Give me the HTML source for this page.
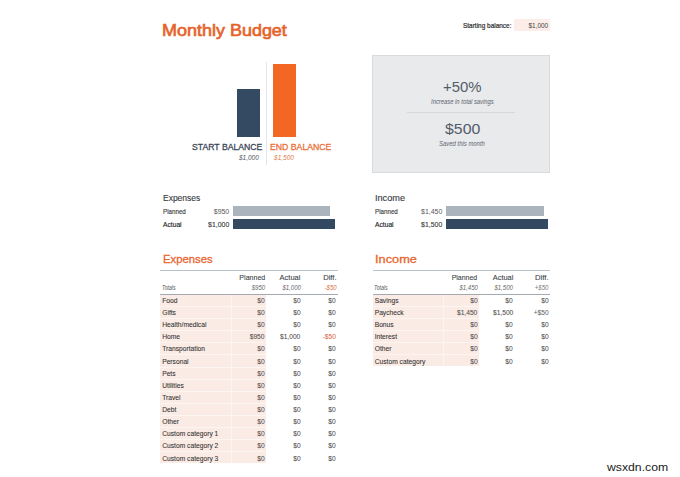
<!DOCTYPE html>
<html><head><meta charset="utf-8">
<style>
*{margin:0;padding:0;box-sizing:border-box}
html,body{width:680px;height:477px;overflow:hidden;background:#fff}
body{position:relative;font-family:"Liberation Sans",sans-serif}
.t{position:absolute;white-space:nowrap;line-height:1}
.r{position:absolute}
</style></head><body>
<div class="t" style="left:162.40px;top:22.00px;font-size:16.42px;font-weight:normal;font-style:normal;color:#e6632c;transform:scaleX(1.0952);transform-origin:left 0;-webkit-text-stroke:0.65px #e6632c;">Monthly Budget</div>
<div class="t" style="left:462.70px;top:22.00px;font-size:7.27px;font-weight:normal;font-style:normal;color:#2b2b2b;transform:scaleX(0.8892);transform-origin:left 0;-webkit-text-stroke:0.2px #2b2b2b;">Starting balance:</div>
<div class="r" style="left:514px;top:19px;width:36px;height:12px;background:#fcede8;"></div>
<div class="t" style="left:527.81px;top:23.00px;font-size:6.60px;font-weight:normal;font-style:normal;color:#444;transform:scaleX(0.9759);transform-origin:right 0;">$1,000</div>
<div class="r" style="left:237px;top:89px;width:23px;height:48px;background:#344a62;"></div>
<div class="r" style="left:272.5px;top:64px;width:23px;height:73px;background:#f46624;"></div>
<div class="r" style="left:266px;top:62px;width:1px;height:103px;background:#e3e6ea;"></div>
<div class="t" style="left:192.10px;top:142.00px;font-size:9.59px;font-weight:normal;font-style:normal;color:#3a4656;transform:scaleX(0.9057);transform-origin:left 0;-webkit-text-stroke:0.3px #3a4656;">START BALANCE</div>
<div class="t" style="left:270.40px;top:142.00px;font-size:9.59px;font-weight:normal;font-style:normal;color:#ec6e38;transform:scaleX(0.9083);transform-origin:left 0;-webkit-text-stroke:0.3px #ec6e38;">END BALANCE</div>
<div class="t" style="left:238.31px;top:155.00px;font-size:6.83px;font-weight:normal;font-style:italic;color:#50555f;transform:scaleX(0.9572);transform-origin:right 0;">$1,000</div>
<div class="t" style="left:274.40px;top:155.00px;font-size:6.83px;font-weight:normal;font-style:italic;color:#dd7a52;transform:scaleX(0.9572);transform-origin:left 0;">$1,500</div>
<div class="r" style="left:372px;top:55px;width:178px;height:118px;background:#e9eaec;border:1px solid #d9dbde;box-sizing:border-box;"></div>
<div class="t" style="left:442.60px;top:79.00px;font-size:15.12px;font-weight:normal;font-style:normal;color:#535c69;transform:scaleX(0.9851);transform-origin:left 0;">+50%</div>
<div class="t" style="left:430.50px;top:99.00px;font-size:7.12px;font-weight:normal;font-style:italic;color:#5d6470;transform:scaleX(0.8232);transform-origin:left 0;">Increase in total savings</div>
<div class="r" style="left:407px;top:112px;width:108px;height:1px;background:#d4d7db;"></div>
<div class="t" style="left:444.70px;top:121.00px;font-size:15.26px;font-weight:normal;font-style:normal;color:#535c69;transform:scaleX(1.0397);transform-origin:left 0;">$500</div>
<div class="t" style="left:438.80px;top:141.00px;font-size:6.83px;font-weight:normal;font-style:italic;color:#5d6470;transform:scaleX(0.8696);transform-origin:left 0;">Saved this month</div>
<div class="t" style="left:162.50px;top:194.00px;font-size:8.87px;font-weight:normal;font-style:normal;color:#333840;transform:scaleX(0.9579);transform-origin:left 0;-webkit-text-stroke:0.12px #333840;">Expenses</div>
<div class="t" style="left:162.50px;top:208.00px;font-size:7.27px;font-weight:normal;font-style:normal;color:#333;transform:scaleX(0.8548);transform-origin:left 0;-webkit-text-stroke:0.12px #333;">Planned</div>
<div class="t" style="left:162.50px;top:221.00px;font-size:7.27px;font-weight:normal;font-style:normal;color:#222;transform:scaleX(0.9208);transform-origin:left 0;-webkit-text-stroke:0.15px #222;">Actual</div>
<div class="t" style="left:213.33px;top:208.00px;font-size:7.27px;font-weight:normal;font-style:normal;color:#555;transform:scaleX(0.9500);transform-origin:right 0;">$950</div>
<div class="t" style="left:207.27px;top:221.00px;font-size:7.27px;font-weight:normal;font-style:normal;color:#333;transform:scaleX(0.9500);transform-origin:right 0;-webkit-text-stroke:0.1px #333;">$1,000</div>
<div class="r" style="left:233px;top:206px;width:97px;height:10px;background:#abb4bd;"></div>
<div class="r" style="left:233px;top:219px;width:102px;height:10px;background:#334962;"></div>
<div class="t" style="left:374.80px;top:194.00px;font-size:8.87px;font-weight:normal;font-style:normal;color:#333840;transform:scaleX(1.0318);transform-origin:left 0;-webkit-text-stroke:0.12px #333840;">Income</div>
<div class="t" style="left:374.80px;top:208.00px;font-size:7.27px;font-weight:normal;font-style:normal;color:#333;transform:scaleX(0.8548);transform-origin:left 0;-webkit-text-stroke:0.12px #333;">Planned</div>
<div class="t" style="left:374.80px;top:221.00px;font-size:7.27px;font-weight:normal;font-style:normal;color:#222;transform:scaleX(0.9208);transform-origin:left 0;-webkit-text-stroke:0.15px #222;">Actual</div>
<div class="t" style="left:419.97px;top:208.00px;font-size:7.27px;font-weight:normal;font-style:normal;color:#555;transform:scaleX(0.9500);transform-origin:right 0;">$1,450</div>
<div class="t" style="left:419.97px;top:221.00px;font-size:7.27px;font-weight:normal;font-style:normal;color:#333;transform:scaleX(0.9500);transform-origin:right 0;-webkit-text-stroke:0.1px #333;">$1,500</div>
<div class="r" style="left:445.7px;top:206px;width:98.5px;height:10px;background:#abb4bd;"></div>
<div class="r" style="left:445.7px;top:219px;width:102.3px;height:10px;background:#334962;"></div>
<div class="t" style="left:162.50px;top:253.00px;font-size:11.77px;font-weight:normal;font-style:normal;color:#e8652e;transform:scaleX(0.9593);transform-origin:left 0;-webkit-text-stroke:0.3px #e8652e;">Expenses</div>
<div class="r" style="left:160px;top:270px;width:178px;height:1px;background:#b9c3ce;"></div>
<div class="t" style="left:236.63px;top:274.00px;font-size:7.70px;font-weight:normal;font-style:normal;color:#3a3f47;transform:scaleX(0.9161);transform-origin:right 0;-webkit-text-stroke:0.1px #3a3f47;">Planned</div>
<div class="t" style="left:278.99px;top:274.00px;font-size:7.70px;font-weight:normal;font-style:normal;color:#3a3f47;transform:scaleX(0.9715);transform-origin:right 0;-webkit-text-stroke:0.1px #3a3f47;">Actual</div>
<div class="t" style="left:322.64px;top:274.00px;font-size:7.70px;font-weight:normal;font-style:normal;color:#3a3f47;transform:scaleX(0.9885);transform-origin:right 0;-webkit-text-stroke:0.1px #3a3f47;">Diff.</div>
<div class="t" style="left:161.90px;top:285.00px;font-size:6.69px;font-weight:normal;font-style:italic;color:#555;transform:scaleX(0.7673);transform-origin:left 0;">Totals</div>
<div class="t" style="left:249.70px;top:285.00px;font-size:6.83px;font-weight:normal;font-style:italic;color:#666;transform:scaleX(0.8850);transform-origin:right 0;">$950</div>
<div class="t" style="left:279.51px;top:285.00px;font-size:6.83px;font-weight:normal;font-style:italic;color:#666;transform:scaleX(0.8850);transform-origin:right 0;">$1,000</div>
<div class="t" style="left:322.53px;top:285.00px;font-size:6.83px;font-weight:normal;font-style:italic;color:#dc6a48;transform:scaleX(0.8850);transform-origin:right 0;">-$50</div>
<div class="r" style="left:160px;top:294px;width:178px;height:1px;background:#a3aab2;"></div>
<div class="r" style="left:160px;top:295px;width:106px;height:168px;background:#fbebe5;"></div>
<div class="r" style="left:230.5px;top:295px;width:1px;height:168px;background:#fdf5f2;"></div>
<div class="r" style="left:160px;top:306px;width:106px;height:1px;background:#fdf5f2;"></div>
<div class="t" style="left:162.20px;top:298.00px;font-size:6.69px;font-weight:normal;font-style:normal;color:#333;-webkit-text-stroke:0.08px #333;">Food</div>
<div class="t" style="left:257.14px;top:297.00px;font-size:6.98px;font-weight:normal;font-style:normal;color:#4a4a4a;transform:scaleX(0.9550);transform-origin:right 0;-webkit-text-stroke:0.05px #4a4a4a;">$0</div>
<div class="t" style="left:292.64px;top:297.00px;font-size:6.98px;font-weight:normal;font-style:normal;color:#4a4a4a;transform:scaleX(0.9550);transform-origin:right 0;-webkit-text-stroke:0.05px #4a4a4a;">$0</div>
<div class="t" style="left:328.44px;top:297.00px;font-size:6.98px;font-weight:normal;font-style:normal;color:#4a4a4a;transform:scaleX(0.9550);transform-origin:right 0;-webkit-text-stroke:0.05px #4a4a4a;">$0</div>
<div class="r" style="left:160px;top:318px;width:106px;height:1px;background:#fdf5f2;"></div>
<div class="t" style="left:162.20px;top:310.00px;font-size:6.69px;font-weight:normal;font-style:normal;color:#333;-webkit-text-stroke:0.08px #333;">Gifts</div>
<div class="t" style="left:257.14px;top:309.00px;font-size:6.98px;font-weight:normal;font-style:normal;color:#4a4a4a;transform:scaleX(0.9550);transform-origin:right 0;-webkit-text-stroke:0.05px #4a4a4a;">$0</div>
<div class="t" style="left:292.64px;top:309.00px;font-size:6.98px;font-weight:normal;font-style:normal;color:#4a4a4a;transform:scaleX(0.9550);transform-origin:right 0;-webkit-text-stroke:0.05px #4a4a4a;">$0</div>
<div class="t" style="left:328.44px;top:309.00px;font-size:6.98px;font-weight:normal;font-style:normal;color:#4a4a4a;transform:scaleX(0.9550);transform-origin:right 0;-webkit-text-stroke:0.05px #4a4a4a;">$0</div>
<div class="r" style="left:160px;top:330px;width:106px;height:1px;background:#fdf5f2;"></div>
<div class="t" style="left:162.20px;top:322.00px;font-size:6.69px;font-weight:normal;font-style:normal;color:#333;-webkit-text-stroke:0.08px #333;">Health/medical</div>
<div class="t" style="left:257.14px;top:321.00px;font-size:6.98px;font-weight:normal;font-style:normal;color:#4a4a4a;transform:scaleX(0.9550);transform-origin:right 0;-webkit-text-stroke:0.05px #4a4a4a;">$0</div>
<div class="t" style="left:292.64px;top:321.00px;font-size:6.98px;font-weight:normal;font-style:normal;color:#4a4a4a;transform:scaleX(0.9550);transform-origin:right 0;-webkit-text-stroke:0.05px #4a4a4a;">$0</div>
<div class="t" style="left:328.44px;top:321.00px;font-size:6.98px;font-weight:normal;font-style:normal;color:#4a4a4a;transform:scaleX(0.9550);transform-origin:right 0;-webkit-text-stroke:0.05px #4a4a4a;">$0</div>
<div class="r" style="left:160px;top:342px;width:106px;height:1px;background:#fdf5f2;"></div>
<div class="t" style="left:162.20px;top:334.00px;font-size:6.69px;font-weight:normal;font-style:normal;color:#333;-webkit-text-stroke:0.08px #333;">Home</div>
<div class="t" style="left:249.38px;top:333.00px;font-size:6.98px;font-weight:normal;font-style:normal;color:#4a4a4a;transform:scaleX(0.9550);transform-origin:right 0;-webkit-text-stroke:0.05px #4a4a4a;">$950</div>
<div class="t" style="left:279.06px;top:333.00px;font-size:6.98px;font-weight:normal;font-style:normal;color:#4a4a4a;transform:scaleX(0.9550);transform-origin:right 0;-webkit-text-stroke:0.05px #4a4a4a;">$1,000</div>
<div class="t" style="left:322.24px;top:333.00px;font-size:6.98px;font-weight:normal;font-style:normal;color:#dc6a48;transform:scaleX(0.9550);transform-origin:right 0;-webkit-text-stroke:0.05px #dc6a48;">-$50</div>
<div class="r" style="left:160px;top:354px;width:106px;height:1px;background:#fdf5f2;"></div>
<div class="t" style="left:162.20px;top:346.00px;font-size:6.69px;font-weight:normal;font-style:normal;color:#333;-webkit-text-stroke:0.08px #333;">Transportation</div>
<div class="t" style="left:257.14px;top:345.00px;font-size:6.98px;font-weight:normal;font-style:normal;color:#4a4a4a;transform:scaleX(0.9550);transform-origin:right 0;-webkit-text-stroke:0.05px #4a4a4a;">$0</div>
<div class="t" style="left:292.64px;top:345.00px;font-size:6.98px;font-weight:normal;font-style:normal;color:#4a4a4a;transform:scaleX(0.9550);transform-origin:right 0;-webkit-text-stroke:0.05px #4a4a4a;">$0</div>
<div class="t" style="left:328.44px;top:345.00px;font-size:6.98px;font-weight:normal;font-style:normal;color:#4a4a4a;transform:scaleX(0.9550);transform-origin:right 0;-webkit-text-stroke:0.05px #4a4a4a;">$0</div>
<div class="r" style="left:160px;top:367px;width:106px;height:1px;background:#fdf5f2;"></div>
<div class="t" style="left:162.20px;top:359.00px;font-size:6.69px;font-weight:normal;font-style:normal;color:#333;-webkit-text-stroke:0.08px #333;">Personal</div>
<div class="t" style="left:257.14px;top:358.00px;font-size:6.98px;font-weight:normal;font-style:normal;color:#4a4a4a;transform:scaleX(0.9550);transform-origin:right 0;-webkit-text-stroke:0.05px #4a4a4a;">$0</div>
<div class="t" style="left:292.64px;top:358.00px;font-size:6.98px;font-weight:normal;font-style:normal;color:#4a4a4a;transform:scaleX(0.9550);transform-origin:right 0;-webkit-text-stroke:0.05px #4a4a4a;">$0</div>
<div class="t" style="left:328.44px;top:358.00px;font-size:6.98px;font-weight:normal;font-style:normal;color:#4a4a4a;transform:scaleX(0.9550);transform-origin:right 0;-webkit-text-stroke:0.05px #4a4a4a;">$0</div>
<div class="r" style="left:160px;top:379px;width:106px;height:1px;background:#fdf5f2;"></div>
<div class="t" style="left:162.20px;top:371.00px;font-size:6.69px;font-weight:normal;font-style:normal;color:#333;-webkit-text-stroke:0.08px #333;">Pets</div>
<div class="t" style="left:257.14px;top:370.00px;font-size:6.98px;font-weight:normal;font-style:normal;color:#4a4a4a;transform:scaleX(0.9550);transform-origin:right 0;-webkit-text-stroke:0.05px #4a4a4a;">$0</div>
<div class="t" style="left:292.64px;top:370.00px;font-size:6.98px;font-weight:normal;font-style:normal;color:#4a4a4a;transform:scaleX(0.9550);transform-origin:right 0;-webkit-text-stroke:0.05px #4a4a4a;">$0</div>
<div class="t" style="left:328.44px;top:370.00px;font-size:6.98px;font-weight:normal;font-style:normal;color:#4a4a4a;transform:scaleX(0.9550);transform-origin:right 0;-webkit-text-stroke:0.05px #4a4a4a;">$0</div>
<div class="r" style="left:160px;top:391px;width:106px;height:1px;background:#fdf5f2;"></div>
<div class="t" style="left:162.20px;top:383.00px;font-size:6.69px;font-weight:normal;font-style:normal;color:#333;-webkit-text-stroke:0.08px #333;">Utilities</div>
<div class="t" style="left:257.14px;top:382.00px;font-size:6.98px;font-weight:normal;font-style:normal;color:#4a4a4a;transform:scaleX(0.9550);transform-origin:right 0;-webkit-text-stroke:0.05px #4a4a4a;">$0</div>
<div class="t" style="left:292.64px;top:382.00px;font-size:6.98px;font-weight:normal;font-style:normal;color:#4a4a4a;transform:scaleX(0.9550);transform-origin:right 0;-webkit-text-stroke:0.05px #4a4a4a;">$0</div>
<div class="t" style="left:328.44px;top:382.00px;font-size:6.98px;font-weight:normal;font-style:normal;color:#4a4a4a;transform:scaleX(0.9550);transform-origin:right 0;-webkit-text-stroke:0.05px #4a4a4a;">$0</div>
<div class="r" style="left:160px;top:403px;width:106px;height:1px;background:#fdf5f2;"></div>
<div class="t" style="left:162.20px;top:395.00px;font-size:6.69px;font-weight:normal;font-style:normal;color:#333;-webkit-text-stroke:0.08px #333;">Travel</div>
<div class="t" style="left:257.14px;top:394.00px;font-size:6.98px;font-weight:normal;font-style:normal;color:#4a4a4a;transform:scaleX(0.9550);transform-origin:right 0;-webkit-text-stroke:0.05px #4a4a4a;">$0</div>
<div class="t" style="left:292.64px;top:394.00px;font-size:6.98px;font-weight:normal;font-style:normal;color:#4a4a4a;transform:scaleX(0.9550);transform-origin:right 0;-webkit-text-stroke:0.05px #4a4a4a;">$0</div>
<div class="t" style="left:328.44px;top:394.00px;font-size:6.98px;font-weight:normal;font-style:normal;color:#4a4a4a;transform:scaleX(0.9550);transform-origin:right 0;-webkit-text-stroke:0.05px #4a4a4a;">$0</div>
<div class="r" style="left:160px;top:415px;width:106px;height:1px;background:#fdf5f2;"></div>
<div class="t" style="left:162.20px;top:407.00px;font-size:6.69px;font-weight:normal;font-style:normal;color:#333;-webkit-text-stroke:0.08px #333;">Debt</div>
<div class="t" style="left:257.14px;top:406.00px;font-size:6.98px;font-weight:normal;font-style:normal;color:#4a4a4a;transform:scaleX(0.9550);transform-origin:right 0;-webkit-text-stroke:0.05px #4a4a4a;">$0</div>
<div class="t" style="left:292.64px;top:406.00px;font-size:6.98px;font-weight:normal;font-style:normal;color:#4a4a4a;transform:scaleX(0.9550);transform-origin:right 0;-webkit-text-stroke:0.05px #4a4a4a;">$0</div>
<div class="t" style="left:328.44px;top:406.00px;font-size:6.98px;font-weight:normal;font-style:normal;color:#4a4a4a;transform:scaleX(0.9550);transform-origin:right 0;-webkit-text-stroke:0.05px #4a4a4a;">$0</div>
<div class="r" style="left:160px;top:427px;width:106px;height:1px;background:#fdf5f2;"></div>
<div class="t" style="left:162.20px;top:419.00px;font-size:6.69px;font-weight:normal;font-style:normal;color:#333;-webkit-text-stroke:0.08px #333;">Other</div>
<div class="t" style="left:257.14px;top:418.00px;font-size:6.98px;font-weight:normal;font-style:normal;color:#4a4a4a;transform:scaleX(0.9550);transform-origin:right 0;-webkit-text-stroke:0.05px #4a4a4a;">$0</div>
<div class="t" style="left:292.64px;top:418.00px;font-size:6.98px;font-weight:normal;font-style:normal;color:#4a4a4a;transform:scaleX(0.9550);transform-origin:right 0;-webkit-text-stroke:0.05px #4a4a4a;">$0</div>
<div class="t" style="left:328.44px;top:418.00px;font-size:6.98px;font-weight:normal;font-style:normal;color:#4a4a4a;transform:scaleX(0.9550);transform-origin:right 0;-webkit-text-stroke:0.05px #4a4a4a;">$0</div>
<div class="r" style="left:160px;top:439px;width:106px;height:1px;background:#fdf5f2;"></div>
<div class="t" style="left:162.20px;top:431.00px;font-size:6.69px;font-weight:normal;font-style:normal;color:#333;-webkit-text-stroke:0.08px #333;">Custom category 1</div>
<div class="t" style="left:257.14px;top:430.00px;font-size:6.98px;font-weight:normal;font-style:normal;color:#4a4a4a;transform:scaleX(0.9550);transform-origin:right 0;-webkit-text-stroke:0.05px #4a4a4a;">$0</div>
<div class="t" style="left:292.64px;top:430.00px;font-size:6.98px;font-weight:normal;font-style:normal;color:#4a4a4a;transform:scaleX(0.9550);transform-origin:right 0;-webkit-text-stroke:0.05px #4a4a4a;">$0</div>
<div class="t" style="left:328.44px;top:430.00px;font-size:6.98px;font-weight:normal;font-style:normal;color:#4a4a4a;transform:scaleX(0.9550);transform-origin:right 0;-webkit-text-stroke:0.05px #4a4a4a;">$0</div>
<div class="r" style="left:160px;top:451px;width:106px;height:1px;background:#fdf5f2;"></div>
<div class="t" style="left:162.20px;top:443.00px;font-size:6.69px;font-weight:normal;font-style:normal;color:#333;-webkit-text-stroke:0.08px #333;">Custom category 2</div>
<div class="t" style="left:257.14px;top:442.00px;font-size:6.98px;font-weight:normal;font-style:normal;color:#4a4a4a;transform:scaleX(0.9550);transform-origin:right 0;-webkit-text-stroke:0.05px #4a4a4a;">$0</div>
<div class="t" style="left:292.64px;top:442.00px;font-size:6.98px;font-weight:normal;font-style:normal;color:#4a4a4a;transform:scaleX(0.9550);transform-origin:right 0;-webkit-text-stroke:0.05px #4a4a4a;">$0</div>
<div class="t" style="left:328.44px;top:442.00px;font-size:6.98px;font-weight:normal;font-style:normal;color:#4a4a4a;transform:scaleX(0.9550);transform-origin:right 0;-webkit-text-stroke:0.05px #4a4a4a;">$0</div>
<div class="t" style="left:162.20px;top:456.00px;font-size:6.69px;font-weight:normal;font-style:normal;color:#333;-webkit-text-stroke:0.08px #333;">Custom category 3</div>
<div class="t" style="left:257.14px;top:455.00px;font-size:6.98px;font-weight:normal;font-style:normal;color:#4a4a4a;transform:scaleX(0.9550);transform-origin:right 0;-webkit-text-stroke:0.05px #4a4a4a;">$0</div>
<div class="t" style="left:292.64px;top:455.00px;font-size:6.98px;font-weight:normal;font-style:normal;color:#4a4a4a;transform:scaleX(0.9550);transform-origin:right 0;-webkit-text-stroke:0.05px #4a4a4a;">$0</div>
<div class="t" style="left:328.44px;top:455.00px;font-size:6.98px;font-weight:normal;font-style:normal;color:#4a4a4a;transform:scaleX(0.9550);transform-origin:right 0;-webkit-text-stroke:0.05px #4a4a4a;">$0</div>
<div class="t" style="left:375.00px;top:253.00px;font-size:11.77px;font-weight:normal;font-style:normal;color:#e8652e;transform:scaleX(1.0852);transform-origin:left 0;-webkit-text-stroke:0.3px #e8652e;">Income</div>
<div class="r" style="left:372.5px;top:270px;width:177.70000000000005px;height:1px;background:#b9c3ce;"></div>
<div class="t" style="left:449.33px;top:274.00px;font-size:7.70px;font-weight:normal;font-style:normal;color:#3a3f47;transform:scaleX(0.9055);transform-origin:right 0;-webkit-text-stroke:0.1px #3a3f47;">Planned</div>
<div class="t" style="left:491.59px;top:274.00px;font-size:7.70px;font-weight:normal;font-style:normal;color:#3a3f47;transform:scaleX(0.9621);transform-origin:right 0;-webkit-text-stroke:0.1px #3a3f47;">Actual</div>
<div class="t" style="left:535.04px;top:274.00px;font-size:7.70px;font-weight:normal;font-style:normal;color:#3a3f47;transform:scaleX(0.9958);transform-origin:right 0;-webkit-text-stroke:0.1px #3a3f47;">Diff.</div>
<div class="t" style="left:374.40px;top:285.00px;font-size:6.69px;font-weight:normal;font-style:italic;color:#555;transform:scaleX(0.7673);transform-origin:left 0;">Totals</div>
<div class="t" style="left:456.71px;top:285.00px;font-size:6.83px;font-weight:normal;font-style:italic;color:#666;transform:scaleX(0.8850);transform-origin:right 0;">$1,450</div>
<div class="t" style="left:492.11px;top:285.00px;font-size:6.83px;font-weight:normal;font-style:italic;color:#666;transform:scaleX(0.8850);transform-origin:right 0;">$1,500</div>
<div class="t" style="left:533.21px;top:285.00px;font-size:6.83px;font-weight:normal;font-style:italic;color:#777;transform:scaleX(0.8850);transform-origin:right 0;">+$50</div>
<div class="r" style="left:372.5px;top:294px;width:177.70000000000005px;height:1px;background:#a3aab2;"></div>
<div class="r" style="left:372.5px;top:295px;width:106.5px;height:71px;background:#fbebe5;"></div>
<div class="r" style="left:443.0px;top:295px;width:1px;height:71px;background:#fdf5f2;"></div>
<div class="r" style="left:372.5px;top:306px;width:106.5px;height:1px;background:#fdf5f2;"></div>
<div class="t" style="left:374.70px;top:298.00px;font-size:6.69px;font-weight:normal;font-style:normal;color:#333;-webkit-text-stroke:0.08px #333;">Savings</div>
<div class="t" style="left:469.84px;top:297.00px;font-size:6.98px;font-weight:normal;font-style:normal;color:#4a4a4a;transform:scaleX(0.9550);transform-origin:right 0;-webkit-text-stroke:0.05px #4a4a4a;">$0</div>
<div class="t" style="left:505.24px;top:297.00px;font-size:6.98px;font-weight:normal;font-style:normal;color:#4a4a4a;transform:scaleX(0.9550);transform-origin:right 0;-webkit-text-stroke:0.05px #4a4a4a;">$0</div>
<div class="t" style="left:540.84px;top:297.00px;font-size:6.98px;font-weight:normal;font-style:normal;color:#4a4a4a;transform:scaleX(0.9550);transform-origin:right 0;-webkit-text-stroke:0.05px #4a4a4a;">$0</div>
<div class="r" style="left:372.5px;top:318px;width:106.5px;height:1px;background:#fdf5f2;"></div>
<div class="t" style="left:374.70px;top:310.00px;font-size:6.69px;font-weight:normal;font-style:normal;color:#333;-webkit-text-stroke:0.08px #333;">Paycheck</div>
<div class="t" style="left:456.26px;top:309.00px;font-size:6.98px;font-weight:normal;font-style:normal;color:#4a4a4a;transform:scaleX(0.9550);transform-origin:right 0;-webkit-text-stroke:0.05px #4a4a4a;">$1,450</div>
<div class="t" style="left:491.66px;top:309.00px;font-size:6.98px;font-weight:normal;font-style:normal;color:#4a4a4a;transform:scaleX(0.9550);transform-origin:right 0;-webkit-text-stroke:0.05px #4a4a4a;">$1,500</div>
<div class="t" style="left:532.88px;top:309.00px;font-size:6.98px;font-weight:normal;font-style:normal;color:#666;transform:scaleX(0.9550);transform-origin:right 0;-webkit-text-stroke:0.05px #666;">+$50</div>
<div class="r" style="left:372.5px;top:330px;width:106.5px;height:1px;background:#fdf5f2;"></div>
<div class="t" style="left:374.70px;top:322.00px;font-size:6.69px;font-weight:normal;font-style:normal;color:#333;-webkit-text-stroke:0.08px #333;">Bonus</div>
<div class="t" style="left:469.84px;top:321.00px;font-size:6.98px;font-weight:normal;font-style:normal;color:#4a4a4a;transform:scaleX(0.9550);transform-origin:right 0;-webkit-text-stroke:0.05px #4a4a4a;">$0</div>
<div class="t" style="left:505.24px;top:321.00px;font-size:6.98px;font-weight:normal;font-style:normal;color:#4a4a4a;transform:scaleX(0.9550);transform-origin:right 0;-webkit-text-stroke:0.05px #4a4a4a;">$0</div>
<div class="t" style="left:540.84px;top:321.00px;font-size:6.98px;font-weight:normal;font-style:normal;color:#4a4a4a;transform:scaleX(0.9550);transform-origin:right 0;-webkit-text-stroke:0.05px #4a4a4a;">$0</div>
<div class="r" style="left:372.5px;top:342px;width:106.5px;height:1px;background:#fdf5f2;"></div>
<div class="t" style="left:374.70px;top:334.00px;font-size:6.69px;font-weight:normal;font-style:normal;color:#333;-webkit-text-stroke:0.08px #333;">Interest</div>
<div class="t" style="left:469.84px;top:333.00px;font-size:6.98px;font-weight:normal;font-style:normal;color:#4a4a4a;transform:scaleX(0.9550);transform-origin:right 0;-webkit-text-stroke:0.05px #4a4a4a;">$0</div>
<div class="t" style="left:505.24px;top:333.00px;font-size:6.98px;font-weight:normal;font-style:normal;color:#4a4a4a;transform:scaleX(0.9550);transform-origin:right 0;-webkit-text-stroke:0.05px #4a4a4a;">$0</div>
<div class="t" style="left:540.84px;top:333.00px;font-size:6.98px;font-weight:normal;font-style:normal;color:#4a4a4a;transform:scaleX(0.9550);transform-origin:right 0;-webkit-text-stroke:0.05px #4a4a4a;">$0</div>
<div class="r" style="left:372.5px;top:354px;width:106.5px;height:1px;background:#fdf5f2;"></div>
<div class="t" style="left:374.70px;top:346.00px;font-size:6.69px;font-weight:normal;font-style:normal;color:#333;-webkit-text-stroke:0.08px #333;">Other</div>
<div class="t" style="left:469.84px;top:345.00px;font-size:6.98px;font-weight:normal;font-style:normal;color:#4a4a4a;transform:scaleX(0.9550);transform-origin:right 0;-webkit-text-stroke:0.05px #4a4a4a;">$0</div>
<div class="t" style="left:505.24px;top:345.00px;font-size:6.98px;font-weight:normal;font-style:normal;color:#4a4a4a;transform:scaleX(0.9550);transform-origin:right 0;-webkit-text-stroke:0.05px #4a4a4a;">$0</div>
<div class="t" style="left:540.84px;top:345.00px;font-size:6.98px;font-weight:normal;font-style:normal;color:#4a4a4a;transform:scaleX(0.9550);transform-origin:right 0;-webkit-text-stroke:0.05px #4a4a4a;">$0</div>
<div class="t" style="left:374.70px;top:359.00px;font-size:6.69px;font-weight:normal;font-style:normal;color:#333;-webkit-text-stroke:0.08px #333;">Custom category</div>
<div class="t" style="left:469.84px;top:358.00px;font-size:6.98px;font-weight:normal;font-style:normal;color:#4a4a4a;transform:scaleX(0.9550);transform-origin:right 0;-webkit-text-stroke:0.05px #4a4a4a;">$0</div>
<div class="t" style="left:505.24px;top:358.00px;font-size:6.98px;font-weight:normal;font-style:normal;color:#4a4a4a;transform:scaleX(0.9550);transform-origin:right 0;-webkit-text-stroke:0.05px #4a4a4a;">$0</div>
<div class="t" style="left:540.84px;top:358.00px;font-size:6.98px;font-weight:normal;font-style:normal;color:#4a4a4a;transform:scaleX(0.9550);transform-origin:right 0;-webkit-text-stroke:0.05px #4a4a4a;">$0</div>
<div class="t" style="left:606.80px;top:462.00px;font-size:11.34px;font-weight:normal;font-style:normal;color:#1a1a1a;transform:scaleX(1.0793);transform-origin:left 0;">wsxdn.com</div>
</body></html>
